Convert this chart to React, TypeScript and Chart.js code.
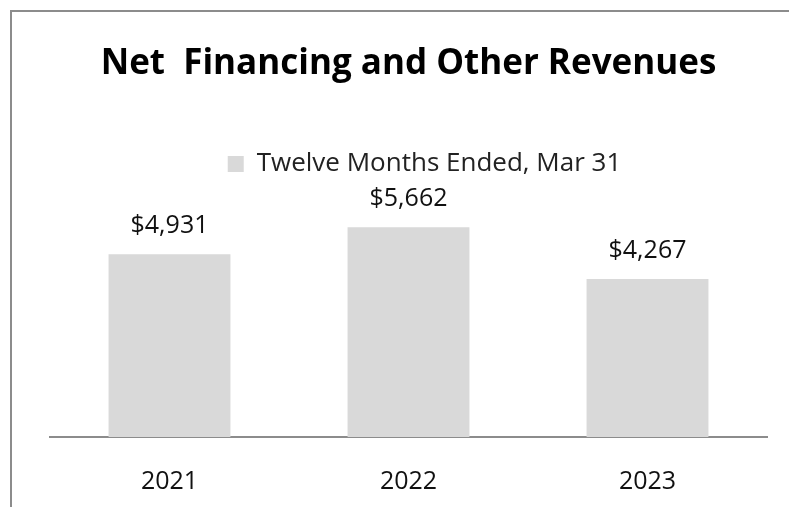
import React, { useEffect, useRef } from "react";
import { Chart, registerables } from "chart.js";

Chart.register(...registerables);

const categories = ["2021", "2022", "2023"];
const seriesLabel = "Twelve Months Ended, Mar 31";
const values = [4931, 5662, 4267];
const titleText = "Net  Financing and Other Revenues";

const FONT = "'Open Sans', 'Noto Sans', sans-serif";

const dataLabelPlugin = {
  id: "dataLabels",
  afterDatasetsDraw(chart: any) {
    const ctx = chart.ctx;
    const meta = chart.getDatasetMeta(0);
    ctx.save();
    ctx.font = `25px ${FONT}`;
    ctx.fillStyle = "#111111";
    ctx.textAlign = "center";
    ctx.textBaseline = "middle";
    meta.data.forEach((bar: any, i: number) => {
      ctx.fillText("$" + values[i].toLocaleString("en-US"), bar.x, bar.y - 28);
    });
    ctx.restore();
  },
};

const legendShiftPlugin = {
  id: "legendShift",
  afterLayout(chart: any) {
    const lg = chart.legend;
    if (lg) {
      lg.left += 16;
      lg.right += 16;
    }
  },
};

export default function App() {
  const ref = useRef<HTMLCanvasElement>(null);
  useEffect(() => {
    if (!ref.current) return;
    const chart = new Chart(ref.current, {
      type: "bar",
      data: {
        labels: categories,
        datasets: [
          {
            label: seriesLabel,
            data: values,
            backgroundColor: "#d9d9d9",
            borderWidth: 0,
            barPercentage: 0.51,
            categoryPercentage: 1,
          },
        ],
      },
      options: {
        animation: false,
        responsive: false,
        maintainAspectRatio: false,
        layout: { padding: { left: 50, right: 22, top: 0, bottom: -20 } },
        plugins: {
          title: {
            display: true,
            text: titleText,
            color: "#000000",
            font: { family: FONT, size: 35, weight: "bold" },
            padding: { top: 43, bottom: 58 },
          },
          legend: {
            display: true,
            labels: {
              color: "#222222",
              font: { family: FONT, size: 26 },
              boxWidth: 16,
              boxHeight: 16,
              padding: 8,
            },
          },
          tooltip: { enabled: false },
        },
        scales: {
          x: {
            grid: { display: false, drawTicks: false },
            border: { display: true, color: "#8c8c8c", width: 2 },
            ticks: { color: "#111111", font: { family: FONT, size: 25 }, padding: 30 },
          },
          y: {
            display: false,
            min: 0,
            max: 6750,
          },
        },
      },
      plugins: [dataLabelPlugin, legendShiftPlugin],
    });
    return () => chart.destroy();
  }, []);
  return (
    <div style={{ position: "absolute", left: 0, top: 0, width: 789, height: 507, background: "#fff" }}>
      <div
        style={{
          position: "absolute",
          left: 10,
          top: 10,
          right: -10,
          bottom: -10,
          borderLeft: "2px solid #8c8c8c",
          borderTop: "2px solid #8c8c8c",
        }}
      />
      <canvas ref={ref} width={789} height={507} style={{ position: "absolute", left: 0, top: 0 }} />
    </div>
  );
}
